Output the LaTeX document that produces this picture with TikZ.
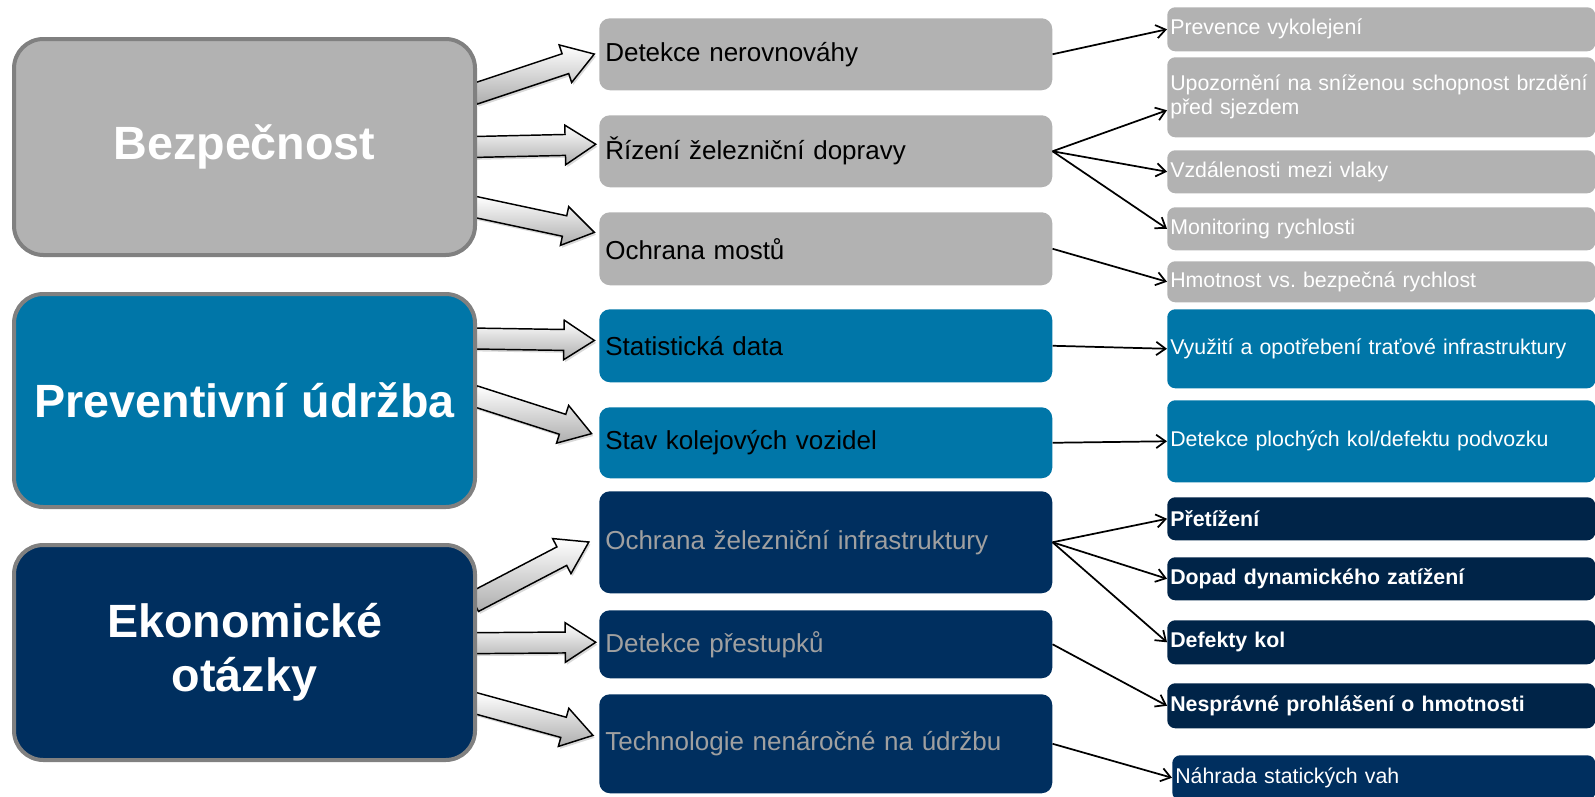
\documentclass[tikz,border=0pt]{standalone}
\usepackage{fontspec}
\setmainfont{Liberation Sans}
\usetikzlibrary{shapes.arrows,arrows.meta,calc,shadows,backgrounds}
\definecolor{boxgray}{RGB}{178,178,178}
\definecolor{boxblue}{RGB}{0,118,168}
\definecolor{navy}{RGB}{0,47,95}
\definecolor{navydark}{RGB}{0,36,72}
\definecolor{bordergray}{RGB}{128,128,128}
\definecolor{midtxt}{RGB}{160,160,160}
\frenchspacing
% name, style, pad(px), x1, y1, x2, y2, text
\newcommand\mybox[8]{%
 \pgfmathsetlengthmacro\myBW{(#6-#4-2*#3)*0.75pt}%
 \pgfmathsetlengthmacro\myBH{(#7-#5)*0.75pt}%
 \pgfmathsetlengthmacro\myBP{#3*0.75pt}%
 \node[#2, anchor=north west, inner xsep=\myBP, inner ysep=0pt, text width=\myBW, minimum height=\myBH] (#1) at (#4,#5) {#8};}
\newcommand\blockarrow[2]{%
 \path let \p1=(#1), \p2=(#2), \n1={atan2(\y2-\y1,\x2-\x1)}, \n2={veclen(\x2-\x1,\y2-\y1)} in
   node[barrow, minimum height=\n2, rotate=\n1, anchor=tail] at (\p1) {};}
\begin{document}
\begin{tikzpicture}[x=0.75pt,y=-0.75pt,
  bigbox/.style={draw=bordergray, line width=3pt, rounded corners=22pt, text=white,
    font=\fontsize{35}{40.5}\selectfont\bfseries, align=center},
  midbox/.style={rounded corners=8pt, font=\fontsize{19.5}{23}\selectfont, align=left},
  rbox/.style={rounded corners=6pt, font=\fontsize{16}{18}\selectfont, align=left, text=white},
  rboxb/.style={rbox, font=\fontsize{16}{18}\selectfont\bfseries},
  barrow/.style={single arrow, draw=black, line width=1.1pt, top color=white, bottom color=black!32,
    inner xsep=0pt, inner ysep=7.3pt, single arrow head extend=7pt, single arrow tip angle=66,
    drop shadow={shadow xshift=1.2pt, shadow yshift=-1.8pt, opacity=0.3}},
  conn/.style={-{Straight Barb[length=7pt,width=10pt,line width=1.3pt]}, line width=1.3pt}]
\useasboundingbox (0,0) rectangle (1595,796);
% left boxes
\mybox{bez}{bigbox,fill=boxgray}{0}{12}{37}{473}{253}{Bezpečnost}
\mybox{prev}{bigbox,fill=boxblue}{0}{12}{292}{473}{505}{Preventivní údržba}
\mybox{ekon}{bigbox,fill=navy}{0}{12}{543}{473}{758}{Ekonomické\\otázky}
% middle boxes
\mybox{det}{midbox,fill=boxgray}{6}{599}{18}{1052}{90}{Detekce nerovnováhy}
\mybox{riz}{midbox,fill=boxgray}{6}{599}{115}{1052}{187}{Řízení železniční dopravy}
\mybox{most}{midbox,fill=boxgray}{6}{599}{212}{1052}{285}{Ochrana mostů}
\mybox{stat}{midbox,fill=boxblue}{6}{599}{309}{1052}{382}{Statistická data}
\mybox{stav}{midbox,fill=boxblue}{6}{599}{407}{1052}{478}{Stav kolejových vozidel}
\mybox{ochr}{midbox,fill=navy,text=midtxt}{6}{599}{491}{1052}{593}{Ochrana železniční infrastruktury}
\mybox{prest}{midbox,fill=navy,text=midtxt}{6}{599}{610}{1052}{678}{Detekce přestupků}
\mybox{tech}{midbox,fill=navy,text=midtxt}{6}{599}{694}{1052}{793}{Technologie nenáročné na údržbu}
% right boxes
\mybox{prv}{rbox,fill=boxgray}{3}{1167}{7}{1595}{51}{Prevence vykolejení}
\mybox{upoz}{rbox,fill=boxgray}{3}{1167}{57}{1595}{137}{Upozornění na sníženou schopnost brzdění\\před sjezdem}
\mybox{vzd}{rbox,fill=boxgray}{3}{1167}{150}{1595}{193}{Vzdálenosti mezi vlaky}
\mybox{mon}{rbox,fill=boxgray}{3}{1167}{207}{1595}{250}{Monitoring rychlosti}
\mybox{hmot}{rbox,fill=boxgray}{3}{1167}{261}{1595}{302}{Hmotnost vs. bezpečná rychlost}
\mybox{vyuz}{rbox,fill=boxblue}{3}{1167}{309}{1595}{388}{Využití a opotřebení traťové infrastruktury}
\mybox{detp}{rbox,fill=boxblue}{3}{1167}{400}{1595}{482}{Detekce plochých kol/defektu podvozku}
\mybox{pret}{rboxb,fill=navydark}{3}{1167}{497}{1595}{540}{Přetížení}
\mybox{dopad}{rboxb,fill=navydark}{3}{1167}{557}{1595}{600}{Dopad dynamického zatížení}
\mybox{def}{rboxb,fill=navydark}{3}{1167}{620}{1595}{664}{Defekty kol}
\mybox{nespr}{rboxb,fill=navydark}{3}{1167}{683}{1595}{728}{Nesprávné prohlášení o hmotnosti}
\mybox{nahr}{rbox,fill=navy}{3}{1172}{755}{1595}{800}{Náhrada statických vah}
% block arrows
\begin{scope}[on background layer]
\blockarrow{[xshift=-3pt,yshift=39.4pt]bez.east}{[xshift=-4pt]det.west}
\blockarrow{[xshift=-3pt]bez.east}{[xshift=-3pt,yshift=5.25pt]riz.west}
\blockarrow{[xshift=-3pt,yshift=-44.6pt]bez.east}{[xshift=-4pt,yshift=12.4pt]most.west}
\blockarrow{[xshift=-3pt,yshift=46.5pt]prev.east}{[xshift=-4pt,yshift=4pt]stat.west}
\blockarrow{[xshift=-3pt,yshift=3.75pt]prev.east}{[xshift=-6pt,yshift=7pt]stav.west}
\blockarrow{[xshift=-3pt,yshift=37.5pt]ekon.east}{[xshift=-8pt]ochr.west}
\blockarrow{[xshift=-3pt,yshift=7pt]ekon.east}{[xshift=-3pt,yshift=1.5pt]prest.west}
\blockarrow{[xshift=-3pt,yshift=-37.5pt]ekon.east}{[xshift=-5pt,yshift=6.4pt]tech.west}
\end{scope}
% connectors
\draw[conn] (det.east) -- (prv.west);
\draw[conn] (riz.east) -- ([yshift=-9.75pt]upoz.west);
\draw[conn] (riz.east) -- (vzd.west);
\draw[conn] (riz.east) -- (mon.west);
\draw[conn] (most.east) -- (hmot.west);
\draw[conn] (stat.east) -- (vyuz.west);
\draw[conn] (stav.east) -- (detp.west);
\draw[conn] (ochr.east) -- (pret.west);
\draw[conn] (ochr.east) -- (dopad.west);
\draw[conn] (ochr.east) -- (def.west);
\draw[conn] (prest.east) -- (nespr.west);
\draw[conn] (tech.east) -- (nahr.west);
\end{tikzpicture}
\end{document}
